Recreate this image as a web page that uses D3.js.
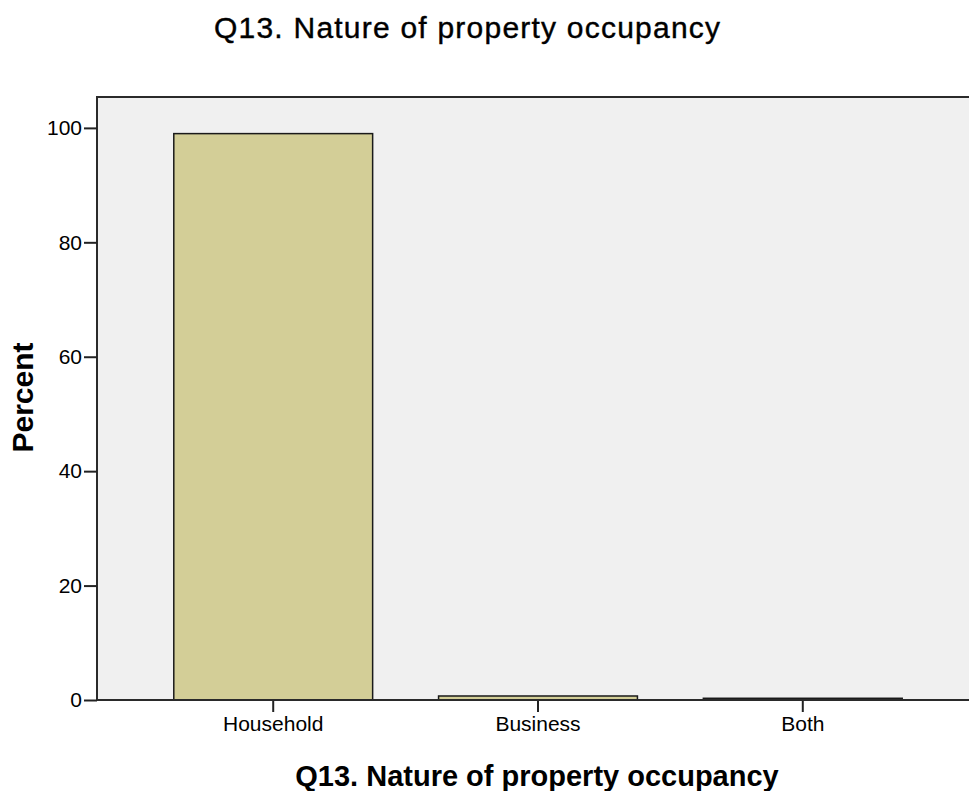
<!DOCTYPE html>
<html>
<head>
<meta charset="utf-8">
<script src="https://cdn.jsdelivr.net/npm/d3@7"></script>
<style>
  html, body { margin: 0; padding: 0; background: #ffffff; }
  svg { display: block; }
  text { font-family: "Liberation Sans", Arial, sans-serif; fill: #000; }
</style>
</head>
<body>
<svg id="chart" width="969" height="791"></svg>
<script>
// Occupancy categories and their share of respondents (%)
const categories = ["Household", "Business", "Both"];
const percents = [99.0, 0.7, 0.3];
const yTicks = [0, 20, 40, 60, 80, 100];
const chartTitle = "Q13. Nature of property occupancy";
const xTitle = "Q13. Nature of property occupancy";
const yTitle = "Percent";

const svg = d3.select("#chart");
const plot = { left: 97, top: 97, right: 979, bottom: 700 };
const font = "'Liberation Sans', Arial, sans-serif";

const x = d3.scaleBand()
  .domain(categories)
  .range([plot.left, plot.right])
  .paddingInner(0.249)
  .paddingOuter(0.29);

const y = d3.scaleLinear()
  .domain([0, 105.4])
  .range([plot.bottom, plot.top]);

// Plot background with frame
svg.append("rect")
  .attr("x", plot.left).attr("y", plot.top)
  .attr("width", plot.right - plot.left).attr("height", plot.bottom - plot.top)
  .attr("fill", "#f0f0f0")
  .attr("stroke", "#2a2a2a").attr("stroke-width", 2);

// Bars
svg.append("g").selectAll("rect")
  .data(categories.map((c, i) => ({ c, v: percents[i] })))
  .join("rect")
  .attr("x", d => x(d.c))
  .attr("y", d => y(d.v))
  .attr("width", x.bandwidth())
  .attr("height", d => y(0) - y(d.v))
  .attr("fill", "#d3ce97")
  .attr("stroke", "#1a1a1a")
  .attr("stroke-width", 1.5);

// Y axis
const yAxis = svg.append("g")
  .attr("transform", `translate(${plot.left},0)`)
  .call(d3.axisLeft(y).tickValues(yTicks).tickSize(13).tickSizeOuter(0).tickPadding(2));
yAxis.select(".domain").remove();
yAxis.selectAll(".tick line").attr("stroke", "#222").attr("stroke-width", 2);
yAxis.selectAll(".tick text").attr("font-size", 21).attr("fill", "#000")
  .style("font-family", font);

// X axis
const xAxis = svg.append("g")
  .attr("transform", `translate(0,${plot.bottom})`)
  .call(d3.axisBottom(x).tickSize(12).tickSizeOuter(0).tickPadding(4));
xAxis.select(".domain").remove();
xAxis.selectAll(".tick line").attr("stroke", "#222").attr("stroke-width", 2);
xAxis.selectAll(".tick text").attr("font-size", 21).attr("fill", "#000")
  .style("font-family", font);

// Baseline drawn over the bar bottoms
svg.append("line")
  .attr("x1", plot.left).attr("x2", plot.right)
  .attr("y1", plot.bottom).attr("y2", plot.bottom)
  .attr("stroke", "#2a2a2a").attr("stroke-width", 2);

// Titles
svg.append("text")
  .attr("x", 467).attr("y", 38)
  .attr("text-anchor", "middle")
  .attr("font-size", 30)
  .attr("textLength", 506)
  .attr("lengthAdjust", "spacing")
  .attr("stroke", "#000").attr("stroke-width", 0.4)
  .text(chartTitle);

svg.append("text")
  .attr("x", 537).attr("y", 786)
  .attr("text-anchor", "middle")
  .attr("font-size", 29)
  .attr("font-weight", "bold")
  .text(xTitle);

svg.append("text")
  .attr("transform", `translate(33,397.5) rotate(-90)`)
  .attr("text-anchor", "middle")
  .attr("font-size", 30)
  .attr("font-weight", "bold")
  .text(yTitle);
</script>
</body>
</html>
